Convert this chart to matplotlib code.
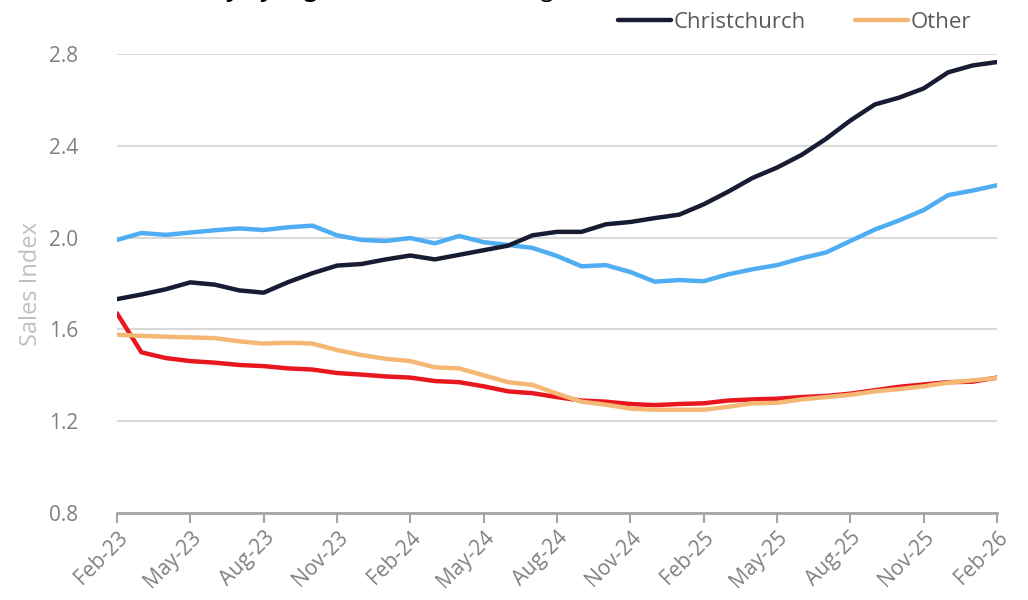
import numpy as np
import pandas as pd
from matplotlib import pyplot as plt

plt.rcParams['font.family'] = ['Open Sans', 'DejaVu Sans']

# monthly index values, Feb-23 .. Feb-26
months = pd.date_range('2023-02-01', '2026-02-01', freq='MS')

christchurch = [1.732, 1.752, 1.775, 1.805, 1.795, 1.770, 1.760, 1.806, 1.845, 1.878,
                1.885, 1.905, 1.922, 1.905, 1.925, 1.945, 1.965, 2.010, 2.025, 2.025,
                2.058, 2.068, 2.085, 2.100, 2.145, 2.200, 2.260, 2.305, 2.360, 2.430,
                2.510, 2.580, 2.610, 2.650, 2.720, 2.750, 2.765]
blue_series = [1.990, 2.020, 2.012, 2.022, 2.032, 2.040, 2.033, 2.045, 2.052, 2.010,
               1.990, 1.985, 1.998, 1.975, 2.007, 1.980, 1.968, 1.955, 1.920, 1.875,
               1.880, 1.850, 1.808, 1.815, 1.810, 1.840, 1.862, 1.880, 1.910, 1.935,
               1.985, 2.035, 2.075, 2.120, 2.185, 2.205, 2.228]
red_series = [1.670, 1.500, 1.475, 1.462, 1.455, 1.445, 1.440, 1.430, 1.425, 1.410,
              1.403, 1.395, 1.390, 1.375, 1.370, 1.352, 1.330, 1.322, 1.305, 1.290,
              1.285, 1.275, 1.270, 1.275, 1.278, 1.290, 1.295, 1.298, 1.305, 1.310,
              1.320, 1.335, 1.350, 1.360, 1.370, 1.372, 1.390]
other = [1.577, 1.572, 1.568, 1.565, 1.562, 1.548, 1.538, 1.542, 1.538, 1.510,
         1.488, 1.472, 1.462, 1.435, 1.430, 1.400, 1.370, 1.358, 1.320, 1.285,
         1.272, 1.255, 1.250, 1.250, 1.250, 1.263, 1.278, 1.280, 1.295, 1.305,
         1.315, 1.330, 1.340, 1.352, 1.368, 1.378, 1.388]

yticks = [0.8, 1.2, 1.6, 2.0, 2.4, 2.8]

grey = '#808080'
x = np.arange(len(months))

fig = plt.figure(figsize=(10.28, 6), dpi=100)
ax = fig.add_axes([117/1028, 87/600, 880/1028, 459/600])

kw = dict(linewidth=3.2, solid_capstyle='round', solid_joinstyle='round')
ax.plot(x, blue_series, color='#4fadf3', **kw)
ax.plot(x, red_series, color='#e8161e', **kw)
l1, = ax.plot(x, christchurch, color='#171c33', label='Christchurch', **kw)
l2, = ax.plot(x, other, color='#f4b874', label='Other', **kw)

ax.set_xlim(0, len(months) - 1)
ax.set_ylim(0.8, 2.8)
ax.set_yticks(yticks)
ax.set_yticklabels([f'{v:.1f}' for v in yticks])
ax.grid(axis='y', color='#d9d9d9', linewidth=1.5)
ax.set_axisbelow(True)

ticks = x[::3]
ax.set_xticks(ticks)
ax.set_xticklabels([m.strftime('%b-%y') for m in months[::3]], rotation=45,
                   ha='right', rotation_mode='anchor')

for s in ['top', 'right', 'left']:
    ax.spines[s].set_visible(False)
ax.spines['bottom'].set_color('#a6a6a6')
ax.spines['bottom'].set_linewidth(2)
ax.tick_params(axis='x', colors='#a6a6a6', length=7, width=1.5, labelsize=15,
               labelcolor=grey, pad=3)
ax.tick_params(axis='y', length=0, labelsize=15, labelcolor=grey, pad=28)
ax.set_ylabel('Sales Index', color='#bfbfbf', fontsize=17, labelpad=4)

ax.legend(handles=[l1, l2], loc='upper right', bbox_to_anchor=(983/1028, 1.0),
          bbox_transform=fig.transFigure, ncol=2, frameon=False, fontsize=16,
          labelcolor='#595959', handlelength=2.4, handletextpad=0.1,
          columnspacing=2.2, borderaxespad=0.15)

# title is cut off by the top edge in the reference
fig.text(355/1028, 1 + 4/600, 'Sales activity by region', fontsize=17,
         fontweight='bold', ha='right', va='baseline', color='black')
fig.text(372/1028, 1 + 4/600, '(3-month average)', fontsize=17,
         ha='left', va='baseline', color='black')

fig.savefig('out.png', dpi=100)
